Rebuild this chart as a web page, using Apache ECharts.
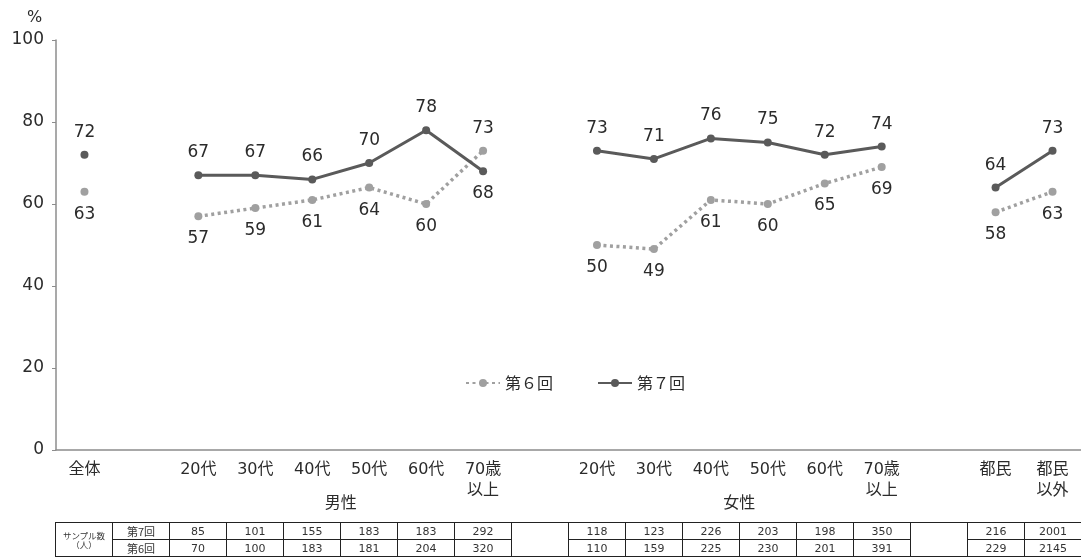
<!DOCTYPE html>
<html><head><meta charset="utf-8">
<script src="https://cdn.jsdelivr.net/npm/echarts@6/dist/echarts.min.js"></script>
<style>
html,body{margin:0;padding:0;background:#fff;}
#wrap{position:relative;width:1081px;height:557px;overflow:hidden;}
#chart{position:absolute;left:0;top:0;width:1081px;height:557px;}
#tbl{position:absolute;left:55px;top:522px;border-collapse:collapse;table-layout:fixed;font-family:"DejaVu Sans","Noto Sans CJK JP",sans-serif;color:#333;}
#tbl td{border:1px solid #222;padding:0;text-align:center;font-size:11px;line-height:15px;height:16px;overflow:hidden;white-space:nowrap;}
#tbl td.hd{font-size:8.5px;line-height:9px;font-family:"Noto Sans CJK JP",sans-serif;}
#tbl td.rn{font-family:"Noto Sans CJK JP",sans-serif;}
</style>
</head><body>
<div id="wrap"><div id="chart"></div><table id="tbl"></table></div>
<script>
const categories = ['全体','', '20代','30代','40代','50代','60代','70歳\n以上','', '20代','30代','40代','50代','60代','70歳\n以上','', '都民','都民\n以外'];
const seriesNames = ['第６回','第７回'];
const round6 = [63,null, 57,59,61,64,60,73, null, 50,49,61,60,65,69, null, 58,63];
const round7 = [72,null, 67,67,66,70,78,68, null, 73,71,76,75,72,74, null, 64,73];
const groupNames = ['男性','女性'];
const groupRanges = [[2,7],[9,14]];
const tableRowNames = ['第7回','第6回'];
const sample7 = [85,101,155,183,183,292, null, 118,123,226,203,198,350, null, 216,2001];
const sample6 = [70,100,183,181,204,320, null, 110,159,225,230,201,391, null, 229,2145];
const tableHeader = 'サンプル数\n（人）';
const swapIdx = [7]; // where round6 label goes above and round7 below

const FONT = '"DejaVu Sans","Noto Sans CJK JP",sans-serif';
const TXT = '#2b2b2b';

function mk(vals, isR7){
  return vals.map((v,i)=>{
    if (v==null) return null;
    let above = isR7;
    if (swapIdx.includes(i)) above = !above;
    return {value:v, label:{position: above?'top':'bottom'}};
  });
}

const chart = echarts.init(document.getElementById('chart'));
chart.setOption({
  animation:false,
  grid:{left:56,right:0,top:40,bottom:107,containLabel:false},
  legend:{
    data:seriesNames, left:460, top:370, itemWidth:34, itemHeight:10, itemGap:44,
    textStyle:{fontSize:16,color:TXT,fontFamily:'"Noto Sans CJK JP",sans-serif'}
  },
  xAxis:{
    type:'category', data:categories, boundaryGap:true,
    axisLine:{lineStyle:{color:'#8c8c8c',width:1.5}},
    axisTick:{show:false},
    axisLabel:{interval:0,color:TXT,fontSize:16,fontFamily:FONT,lineHeight:21,margin:9}
  },
  yAxis:{
    type:'value', min:0, max:100, interval:20,
    axisLine:{show:true,lineStyle:{color:'#8c8c8c',width:1.5}},
    axisTick:{show:true,length:4,lineStyle:{color:'#8c8c8c'}},
    splitLine:{show:false},
    axisLabel:{color:TXT,fontSize:17,fontFamily:FONT,margin:12}
  },
  series:[
    {name:seriesNames[0],type:'line',data:mk(round6,false),connectNulls:false,
     symbol:'circle',symbolSize:8,
     itemStyle:{color:'#a0a0a0'},
     lineStyle:{color:'#a0a0a0',width:3.5,type:[3,3.5]},
     label:{show:true,fontSize:17,color:TXT,fontFamily:FONT,distance:10}},
    {name:seriesNames[1],type:'line',data:mk(round7,true),connectNulls:false,
     symbol:'circle',symbolSize:8,
     itemStyle:{color:'#5a5a5a'},
     lineStyle:{color:'#5a5a5a',width:3},
     label:{show:true,fontSize:17,color:TXT,fontFamily:FONT,distance:10}}
  ]
});

// group labels & % label
const gfx = [{type:'text',left:27,top:10,style:{text:'%',fontSize:16,fill:TXT,fontFamily:FONT}}];
groupRanges.forEach((r,k)=>{
  const a = chart.convertToPixel({xAxisIndex:0}, r[0]);
  const b = chart.convertToPixel({xAxisIndex:0}, r[1]);
  gfx.push({type:'text',x:(a+b)/2,y:502,style:{text:groupNames[k],fontSize:16,fill:TXT,fontFamily:'"Noto Sans CJK JP",sans-serif',align:'center',verticalAlign:'middle'}});
});
chart.setOption({graphic:gfx});

// sample table
const tbl = document.getElementById('tbl');
const cw = 1026/18;
let cg = '<colgroup>'; for(let i=0;i<18;i++) cg += '<col style="width:'+cw+'px">'; cg += '</colgroup>';
function row(name, arr, first){
  let h = '<tr>';
  if(first) h += '<td rowspan="2" class="hd">'+tableHeader.replace('\n','<br>')+'</td>';
  h += '<td class="rn">'+name+'</td>';
  arr.forEach(v=>{
    if(v==null){ if(first) h += '<td rowspan="2"></td>'; }
    else h += '<td>'+v+'</td>';
  });
  return h+'</tr>';
}
tbl.innerHTML = cg + row(tableRowNames[0], sample7, true) + row(tableRowNames[1], sample6, false);
tbl.style.width = '1026px';
</script>
</body></html>
